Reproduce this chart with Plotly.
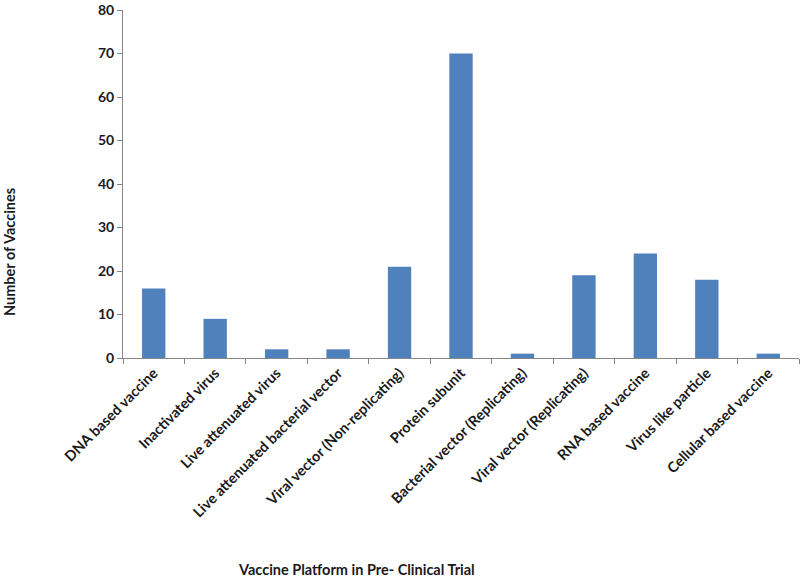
import plotly.graph_objects as go

categories = [
    "DNA based vaccine",
    "Inactivated virus",
    "Live attenuated virus",
    "Live attenuated bacterial vector",
    "Viral vector (Non-replicating)",
    "Protein subunit",
    "Bacterial vector (Replicating)",
    "Viral vector (Replicating)",
    "RNA based vaccine",
    "Virus like particle",
    "Cellular based vaccine",
]
values = [16, 9, 2, 2, 21, 70, 1, 19, 24, 18, 1]
y_ticks = [0, 10, 20, 30, 40, 50, 60, 70, 80]

FONT = "Lato"
TXT = "#1a1a1a"

L, R, T, B = 123, 1, 10, 222
PW, PH = 800 - L - R, 580 - T - B

fig = go.Figure(
    go.Bar(x=categories, y=values, marker=dict(color="#4F81BD", line=dict(width=0)))
)

fig.update_layout(
    width=800,
    height=580,
    margin=dict(l=L, r=R, t=T, b=B),
    plot_bgcolor="white",
    paper_bgcolor="white",
    bargap=0.62,
    showlegend=False,
    font=dict(family=FONT, size=14, color=TXT),
)

fig.update_xaxes(
    type="category",
    automargin=False,
    tickangle=-45,
    tickson="boundaries",
    ticks="outside",
    ticklen=5,
    tickcolor="#868686",
    showline=True,
    linecolor="#868686",
    linewidth=1,
    showgrid=False,
    ticklabeloverflow="allow",
    tickfont=dict(family=FONT, size=14.5, color=TXT, weight="bold"),
)
fig.update_yaxes(
    automargin=False,
    range=[0, 80],
    tickvals=y_ticks,
    ticks="outside",
    ticklen=5,
    tickcolor="#868686",
    showline=True,
    linecolor="#868686",
    linewidth=1,
    showgrid=False,
    zeroline=False,
    ticklabeloverflow="allow",
    tickfont=dict(family=FONT, size=14, color=TXT, weight="bold"),
)

fig.add_annotation(
    text="<b>Number of Vaccines</b>",
    xref="paper", yref="paper",
    x=(9 - L) / PW, y=1 - (252 - T) / PH,
    xanchor="center", yanchor="middle",
    textangle=-90, showarrow=False,
    font=dict(family=FONT, size=14.5, color=TXT),
)
fig.add_annotation(
    text="<b>Vaccine Platform in Pre- Clinical Trial</b>",
    xref="paper", yref="paper",
    x=(356 - L) / PW, y=-(569 - (580 - B)) / PH,
    xanchor="center", yanchor="middle",
    showarrow=False,
    font=dict(family=FONT, size=14.5, color=TXT),
)

fig.write_html(
    "out.html",
    config={"displayModeBar": False},
    post_script="document.body.style.margin='0';document.body.style.overflow='hidden';",
)
